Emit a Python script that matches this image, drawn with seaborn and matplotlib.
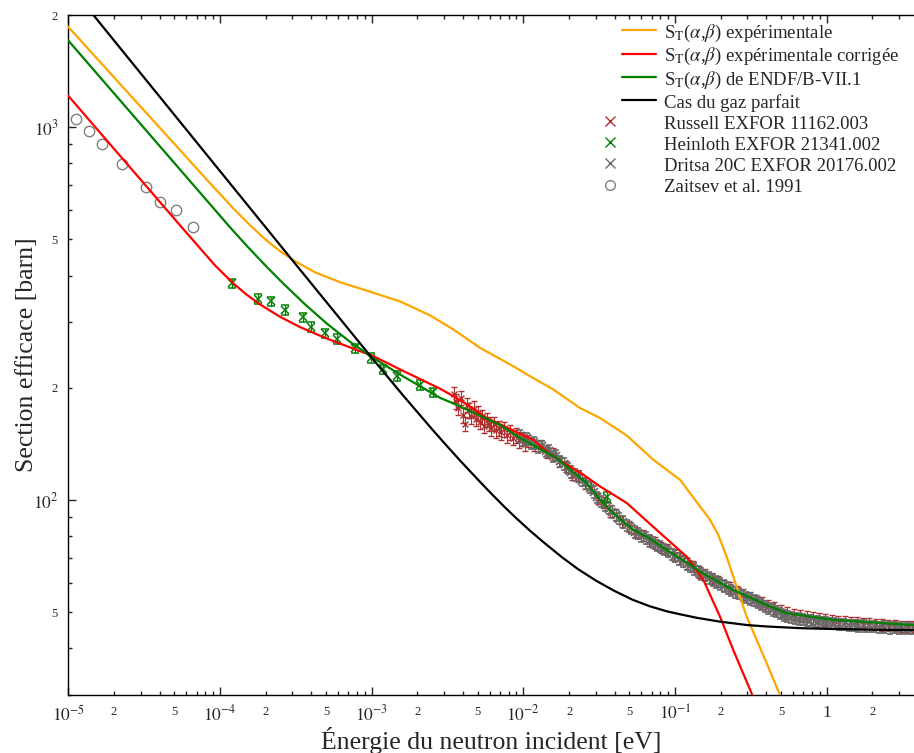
import numpy as np
import matplotlib
matplotlib.use('Agg')
import matplotlib.pyplot as plt
from matplotlib.lines import Line2D
from matplotlib.legend_handler import HandlerLine2D
from matplotlib.ticker import LogLocator, FuncFormatter
import seaborn as sns

# --- courbes S(alpha,beta) et gaz parfait (E en eV, sigma en barn) ---
exp_E = [1e-5, 2.19e-5, 4.68e-5, 8.59e-5, 1.256e-4, 1.578e-4, 1.98e-4, 2.49e-4, 3.13e-4, 4.24e-4,
         6.19e-4, 1e-3, 1.54e-3, 2.42e-3, 3.44e-3, 5.18e-3, 8.57e-3, 1.106e-2, 1.574e-2, 2.36e-2,
         3.2e-2, 4.8e-2, 7.18e-2, 0.1076, 0.146, 0.170, 0.1924, 0.2186, 0.2963, 0.4016, 0.491, 0.665]
exp_sig = [1858, 1307, 930, 708, 599, 546, 501, 465, 437, 408,
           384, 361, 341, 313, 287, 256, 228.6, 214.8, 198, 176.6,
           166, 149, 128.3, 113.4, 96.1, 88.5, 80.7, 70.5, 48.7, 36.5, 30.0, 22.0]

cor_E = [1e-5, 5.73e-5, 9.27e-5, 1.218e-4, 1.484e-4, 1.834e-4, 2.484e-4, 3.365e-4, 4.92e-4, 7.19e-4,
         1.035e-3, 1.54e-3, 2.82e-3, 3.45e-3, 4.68e-3, 5.73e-3, 1.162e-2, 1.5e-2, 2.48e-2, 3.2e-2,
         4.8e-2, 7.55e-2, 0.1192, 0.1535, 0.1976, 0.2419, 0.3131, 0.38]
cor_sig = [1214, 533, 426, 382, 356.7, 334.8, 310.3, 291.1, 272.4, 256.8,
           242.8, 224, 199, 190, 176, 166, 145, 132.5, 117, 108.8,
           98.2, 83.2, 70.5, 61.1, 48.7, 39.6, 30.9, 25.5]

endf_E = [1e-5, 1.16e-4, 1.51e-4, 2e-4, 2.6e-4, 3.6e-4, 5.07e-4, 7.19e-4, 1.035e-3, 1.54e-3,
          2.82e-3, 3.64e-3, 7.01e-3, 9.5e-3, 1.656e-2, 2.61e-2, 3.2e-2, 3.91e-2, 5.3e-2, 6.5e-2,
          8.8e-2, 0.1318, 0.146, 0.2419, 0.4018, 0.544, 1.104, 3.76]
endf_sig = [1708, 540, 479.6, 425, 381.6, 336.1, 297.2, 265.8, 240, 217,
            188, 180, 159, 146.8, 129.7, 111.1, 100.2, 92.3, 83.2, 79.8,
            73.5, 66.3, 64.3, 57.4, 52.3, 49.7, 47.7, 46.2]

gaz_E = [1e-5, 2.89e-4, 1e-3, 1.6e-3, 2.52e-3, 3.1e-3, 3.8e-3, 4.5e-3, 5.4e-3, 6.3e-3,
         7.5e-3, 9e-3, 1.1e-2, 1.35e-2, 1.8e-2, 2.3e-2, 3.05e-2, 4e-2, 5.26e-2, 6.8e-2,
         8.82e-2, 0.11, 0.14, 0.197, 0.3, 0.403, 0.7, 1.1, 2.0, 3.76]
gaz_sig = [2420, 448, 241, 191.4, 154.3, 140.3, 128, 118.9, 109.9, 103,
           95.9, 89.3, 82.9, 77.2, 70.2, 65.2, 60.6, 57.0, 54.0, 51.9,
           50.3, 49.3, 48.3, 47.2, 46.2, 45.8, 45.3, 45.1, 44.9, 44.8]

# --- points experimentaux ---
russell_E = [3.49e-3, 3.60e-3, 3.71e-3, 3.88e-3, 4.00e-3, 4.12e-3, 4.25e-3, 4.38e-3, 4.52e-3, 4.73e-3,
             4.87e-3, 5.02e-3, 5.18e-3, 5.34e-3, 5.50e-3, 5.75e-3, 5.93e-3, 6.11e-3, 6.40e-3, 6.59e-3,
             6.90e-3, 7.11e-3, 7.45e-3, 7.80e-3, 8.17e-3, 8.54e-3, 8.93e-3, 9.35e-3, 9.79e-3, 1.02e-2,
             0.0108, 0.0118, 0.0130, 0.0143, 0.0157, 0.0172, 0.019, 0.021, 0.023, 0.0255,
             0.028, 0.031, 0.034, 0.0375, 0.041, 0.045, 0.050, 0.055, 0.061, 0.067,
             0.074, 0.081, 0.089, 0.098, 0.108, 0.119, 0.131, 0.144, 0.158, 0.174,
             0.191, 0.21, 0.23, 0.255, 0.28, 0.31, 0.34, 0.375, 0.41, 0.45,
             0.50, 0.55, 0.61, 0.67, 0.74, 0.81, 0.89, 0.98, 1.08, 1.19,
             1.31, 1.44, 1.58, 1.74, 1.91, 2.1, 2.3, 2.55, 2.8, 3.1, 3.4, 3.7]
russell_sig = [192, 184, 177, 188, 169, 160, 180, 174, 168, 176,
               165, 171, 162, 167, 158, 164, 160, 156, 160, 154,
               156, 152, 155, 149, 152, 147, 149, 144.5, 146, 141.7,
               144, 140, 140, 134, 133, 127, 123, 117, 116, 111,
               108, 101, 98.5, 93.5, 91.5, 87.5, 85, 82, 80.5, 78,
               76.8, 74.6, 73.6, 71.2, 69.8, 67.5, 66.4, 64.2, 63.1, 61.6,
               60.5, 59.1, 58.1, 56.7, 55.8, 54.8, 53.9, 53.0, 52.1, 51.4,
               50.4, 49.8, 49.3, 48.9, 48.7, 48.3, 48.1, 47.7, 47.6, 47.3,
               47.2, 47.0, 46.8, 46.6, 46.6, 46.4, 46.3, 46.1, 46.1, 45.9, 45.9, 45.7]

heinloth_E = [1.202e-4, 1.78e-4, 2.17e-4, 2.69e-4, 3.53e-4, 3.98e-4, 4.92e-4, 5.90e-4, 7.76e-4,
              9.89e-4, 1.186e-3, 1.466e-3, 2.08e-3, 2.53e-3, 3.56e-2]
heinloth_sig = [381, 347, 341, 323, 309, 291, 280, 270, 255,
                241, 224, 215, 204, 194.5, 102]

dritsa_E = [0.0095, 0.0100, 0.0106, 0.0112, 0.0118, 0.0125, 0.0132, 0.0140, 0.0148, 0.0156,
            0.0165, 0.0175, 0.0185, 0.0196, 0.0207, 0.0219, 0.0232, 0.0245, 0.026, 0.0275,
            0.029, 0.0307, 0.0325, 0.0344, 0.0364, 0.0385, 0.0407, 0.043, 0.0455, 0.0482,
            0.051, 0.054, 0.057, 0.060, 0.064, 0.068, 0.072, 0.076, 0.080, 0.085,
            0.090, 0.095, 0.100, 0.106, 0.112, 0.119, 0.126, 0.133, 0.141, 0.149,
            0.158, 0.167, 0.177, 0.187, 0.198, 0.21, 0.222, 0.235, 0.249, 0.263,
            0.279, 0.295, 0.312, 0.33, 0.35, 0.37, 0.39, 0.41, 0.44, 0.46,
            0.49, 0.52, 0.55, 0.58, 0.62, 0.66, 0.70, 0.74, 0.78, 0.83,
            0.88, 0.93, 0.99, 1.05, 1.12, 1.2, 1.3, 1.4, 1.5, 1.6,
            1.75, 1.9, 2.05, 2.2, 2.4, 2.6, 2.8, 3.0, 3.25, 3.5, 3.75]
dritsa_sig = [148.5, 145, 146.5, 142, 143, 139, 139.5, 135, 135.5, 131,
              131.5, 127, 125, 121.5, 119, 116.8, 115.5, 112.8, 111, 108,
              105.2, 101.8, 99.1, 96.8, 94.9, 92.9, 91.0, 89.2, 87.3, 85.5,
              84.0, 82.2, 81.4, 80.0, 79.2, 77.7, 76.9, 75.7, 75.0, 73.6,
              72.8, 71.6, 70.8, 69.6, 68.6, 67.4, 66.5, 65.4, 64.4, 63.4,
              62.7, 61.8, 61.1, 60.3, 59.6, 58.8, 58.1, 57.3, 56.6, 56.1,
              55.4, 54.9, 54.3, 53.7, 53.1, 52.5, 51.9, 51.3, 50.7, 50.3,
              49.7, 49.1, 48.8, 48.4, 48.2, 48.0, 47.8, 47.6, 47.5, 47.3,
              47.2, 47.0, 46.9, 46.7, 46.6, 46.4, 46.4, 46.2, 46.2, 46.0,
              46.0, 45.8, 45.8, 45.6, 45.7, 45.4, 45.5, 45.3, 45.4, 45.2, 45.3]

zaitsev_E = [1.124e-5, 1.368e-5, 1.667e-5, 2.26e-5, 3.25e-5, 4.02e-5, 5.13e-5, 6.64e-5]
zaitsev_sig = [1052, 977, 901, 796, 691, 629, 599, 539]

labels = [r'S$_{\mathrm{T}}$($\alpha$,$\beta$) expérimentale',
          r'S$_{\mathrm{T}}$($\alpha$,$\beta$) expérimentale corrigée',
          r'S$_{\mathrm{T}}$($\alpha$,$\beta$) de ENDF/B-VII.1',
          'Cas du gaz parfait',
          'Russell EXFOR 11162.003',
          'Heinloth EXFOR 21341.002',
          'Dritsa 20C EXFOR 20176.002',
          'Zaitsev et al. 1991']


class LeftMarkerHandler(HandlerLine2D):
    # marqueur seul, place a gauche de la zone des traits (comme sur l'original)
    def get_xdata(self, legend, xdescent, ydescent, width, height, fontsize):
        m = -xdescent - 8.5
        xdata = np.array([m - 1.0, m + 1.0])
        return xdata, np.array([m])


def main():
    sns.set_style('ticks')
    plt.rcParams['font.family'] = ['Liberation Serif', 'DejaVu Serif']
    plt.rcParams['mathtext.fontset'] = 'stix'

    fig = plt.figure(figsize=(9.14, 7.53), dpi=100)
    ax = fig.add_axes([68.3 / 914, 58 / 753, (914 - 68.3) / 914, 680 / 753])
    ax.set_xscale('log')
    ax.set_yscale('log')

    c_rus, c_hei, c_dri, c_zai = '#b03030', '#008000', '#696969', '#808080'

    # points experimentaux
    rs = np.array(russell_sig)
    rerr = np.where(np.array(russell_E) < 1.05e-2, 0.045, 0.035) * rs
    ax.errorbar(russell_E, rs, yerr=rerr, fmt='x', color=c_rus, ms=5, mew=1,
                elinewidth=0.8, capsize=2, zorder=2)
    ds = np.array(dritsa_sig)
    ax.errorbar(dritsa_E, ds, yerr=0.035 * ds, fmt='x', color=c_dri, ms=6, mew=1.2,
                elinewidth=1.0, capsize=2.5, zorder=2.5)
    hs = np.array(heinloth_sig)
    ax.errorbar(heinloth_E, hs, yerr=0.03 * hs, fmt='x', color=c_hei, ms=6, mew=1.1,
                elinewidth=0.9, capsize=3, zorder=3)
    ax.plot(zaitsev_E, zaitsev_sig, 'o', mfc='none', mec=c_zai, mew=1, ms=7.5, zorder=3)

    # courbes
    curves = [(exp_E, exp_sig, 'orange'), (cor_E, cor_sig, 'red'),
              (endf_E, endf_sig, 'green'), (gaz_E, gaz_sig, 'black')]
    for xs, ys, col in curves:
        sns.lineplot(x=xs, y=ys, color=col, lw=1.6, ax=ax, legend=False,
                     estimator=None, sort=False, zorder=4)

    ax.set_xlim(1e-5, 10 ** ((914 - 68.3) / 151.7 - 5))
    ax.set_ylim(30, 2000)

    def major_fmt(v, pos):
        e = int(round(np.log10(v)))
        return '1' if e == 0 else r'$10^{%d}$' % e

    def minor_fmt(v, pos):
        m = int(round(v / 10 ** np.floor(np.log10(v) + 1e-9)))
        return str(m) if m in (2, 5) else ''

    for axis in (ax.xaxis, ax.yaxis):
        axis.set_major_locator(LogLocator(base=10, numticks=20))
        axis.set_minor_locator(LogLocator(base=10, subs=np.arange(2, 10), numticks=20))
        axis.set_major_formatter(FuncFormatter(major_fmt))
        axis.set_minor_formatter(FuncFormatter(minor_fmt))

    ax.tick_params(which='both', direction='in', top=True, right=False, width=1)
    ax.tick_params(which='major', length=6, labelsize=12.5, pad=7)
    ax.tick_params(which='minor', length=3, labelsize=9, pad=8)
    ax.spines['right'].set_visible(False)
    for s in ('left', 'bottom', 'top'):
        ax.spines[s].set_linewidth(1.0)
        ax.spines[s].set_color('black')

    ax.set_xlabel('Énergie du neutron incident [eV]', fontsize=18.5)
    ax.set_ylabel('Section efficace [barn]', fontsize=18.5)
    ax.xaxis.set_label_coords(0.5, -(727 - 695) / 680)
    ax.yaxis.set_label_coords(-(68.3 - 38) / 845.7, 0.5)

    handles = [Line2D([], [], color='orange', lw=1.6),
               Line2D([], [], color='red', lw=1.6),
               Line2D([], [], color='green', lw=1.6),
               Line2D([], [], color='black', lw=1.6),
               Line2D([], [], marker='x', ls='none', color=c_rus, ms=7),
               Line2D([], [], marker='x', ls='none', color=c_hei, ms=7),
               Line2D([], [], marker='x', ls='none', color=c_dri, ms=7),
               Line2D([], [], marker='o', ls='none', mfc='none', mec=c_zai, ms=7)]
    hmap = {h: LeftMarkerHandler() for h in handles[4:]}
    ax.legend(handles, labels, loc='upper left', handler_map=hmap,
              bbox_to_anchor=((622 - 68.3) / 845.7, 1 - (22.5 - 15) / 680),
              frameon=False, fontsize=13.5, handlelength=1.8, handletextpad=0.45,
              handleheight=1.15, labelspacing=0.08, borderpad=0, borderaxespad=0)

    plt.savefig('out.png', dpi=100)


if __name__ == '__main__':
    main()
